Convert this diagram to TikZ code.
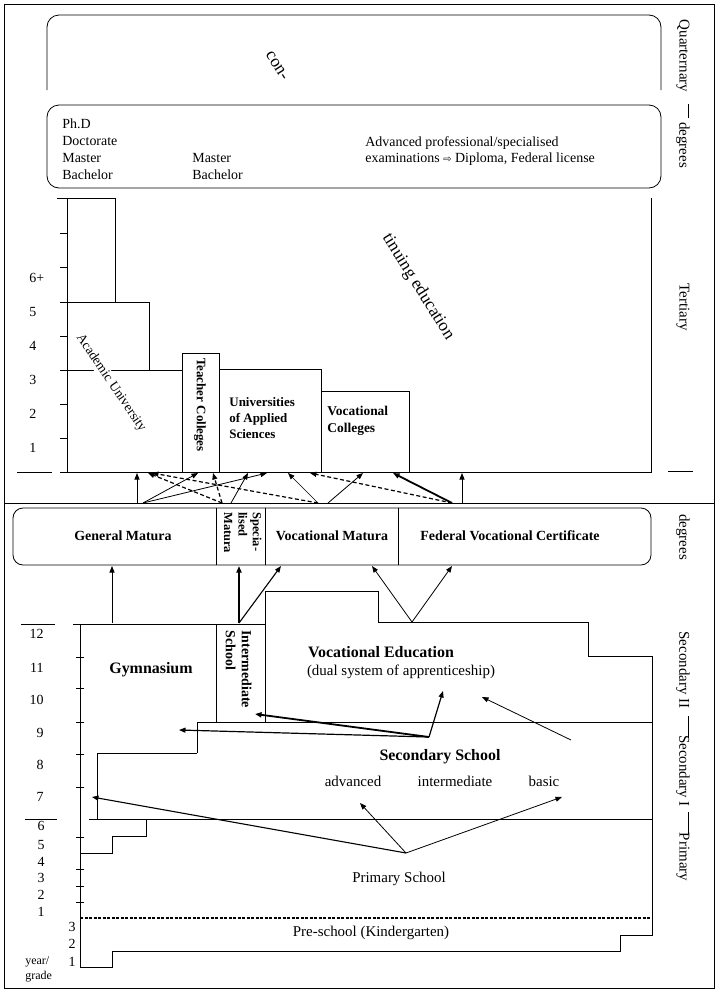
\documentclass[tikz,border=0pt]{standalone}
\usepackage{fontspec}
\setmainfont{Liberation Serif}
\newfontfamily\symfnt{DejaVu Sans}
\usetikzlibrary{arrows.meta}
\begin{document}
\begin{tikzpicture}[x=1bp,y=-1bp,line width=0.8bp,
 every node/.style={inner sep=0pt,font=\fontsize{15}{17}\selectfont},
 tip/.style={-{Triangle[length=6.5bp,width=5bp]}},
 thk/.style={line width=1.8bp},
 dsh/.style={dash pattern=on 4bp off 2.5bp, line width=1.2bp},
 num/.style={font=\fontsize{14}{16}\selectfont},
 deg/.style={font=\fontsize{14}{16}\selectfont, anchor=base west},
 side/.style={font=\fontsize{15}{17}\selectfont, rotate=-90},
 bx/.style={font=\bfseries\fontsize{14}{16}\selectfont},
 big/.style={font=\fontsize{17.5}{20}\selectfont, rotate=-58}]
\useasboundingbox (0,0) rectangle (720,999);
\fill[white] (0,0) rectangle (720,999);
% frame
\draw (4,4) rectangle (714,988);
\draw (4,503) -- (714,503);
% right-hand level labels
\node[side] (quat) at (683,56) {Quarternary};
\draw (688,104) -- (688,118);
\node[side] (deg1) at (683,145) {degrees};
\node[side] (tert) at (683,307) {Tertiary};
\draw (668,471) -- (693,471);
\node[side] (deg2) at (683,537) {degrees};
\node[side] (sec2) at (683,670) {Secondary II};
\draw (688,716) -- (688,738);
\node[side] (sec1) at (683,771) {Secondary I};
\draw (688,812) -- (688,834);
\node[side] (prim) at (683,857) {Primary};
% quaternary
\draw[rounded corners=12bp] (47,90) -- (47,15) -- (661,15) -- (661,90);
\node[big] (con) at (277,66) {con-};
% tertiary degrees box
\draw[rounded corners=12bp] (47,105) rectangle (661,188);
\node[deg] (phd) at (62,128.5) {Ph.D};
\node[deg] (doc) at (62,145.5) {Doctorate};
\node[deg] (mas1) at (62,162) {Master};
\node[deg] (bac1) at (62,179) {Bachelor};
\node[deg] (mas2) at (192,162) {Master};
\node[deg] (bac2) at (192,179) {Bachelor};
\node[deg] (adv1) at (365,146) {Advanced professional/specialised};
\node[deg] (adv2) at (365,162) {examinations {\symfnt\fontsize{10}{12}\selectfont ⇨} Diploma, Federal license};
% tertiary institutions
\draw (67,198) -- (67,472) -- (651,472) -- (651,198);
\draw (57,198) -- (115,198) -- (115,302);
\draw (67,302) -- (149,302) -- (149,370);
\draw (67,370) -- (182,370);
\draw (182,472) -- (182,353) -- (219,353) -- (219,472);
\draw (219,369) -- (321,369) -- (321,472);
\draw (321,391) -- (409,391) -- (409,472);
\foreach \y in {233,267,302,336,370,404,438,472} \draw (60,\y) -- (67,\y);
\draw (17,472) -- (52,472);
\node[num,anchor=west] (t6) at (29,278) {6+};
\node[num,anchor=west] (t5) at (29,312) {5};
\node[num,anchor=west] (t4) at (29,346) {4};
\node[num,anchor=west] (t3) at (29,380) {3};
\node[num,anchor=west] (t2) at (29,414) {2};
\node[num,anchor=west] (t1) at (29,448) {1};
\node[font=\fontsize{13.5}{15}\selectfont, rotate=-56, fill=white, inner sep=1bp] (acad) at (111,383) {Academic University};
\node[font=\bfseries\fontsize{13}{15}\selectfont, rotate=-90] (teach) at (200,405) {Teacher Colleges};
\node[font=\bfseries\fontsize{13}{16}\selectfont, align=left, anchor=west] (uas) at (229,418) {Universities\\of Applied\\Sciences};
\node[font=\bfseries\fontsize{13.5}{16.5}\selectfont, align=left, anchor=west] (vcol) at (327,421) {Vocational\\Colleges};
\node[big] (tinu) at (418,287) {tinuing education};
% upper secondary degrees
\draw[rounded corners=10bp] (13,508) rectangle (651,565);
\draw (216,508) -- (216,565);
\draw (265,508) -- (265,565);
\draw (398,508) -- (398,565);
\node[bx] (gm) at (123,536) {General Matura};
\node[rotate=-90, align=left, anchor=north west, font=\bfseries\fontsize{12.5}{14.5}\selectfont] (sm) at (262,512) {Specia-\\lised\\Matura};
\node[bx] (vm) at (332,536) {Vocational Matura};
\node[bx] (fvc) at (510,536) {Federal Vocational Certificate};
% arrows degrees -> tertiary
\coordinate (g0) at (137,503); \coordinate (g1) at (143,503);
\coordinate (s0) at (222,503); \coordinate (s1) at (231,503);
\coordinate (v0) at (318,503); \coordinate (v1) at (328,503);
\coordinate (f0) at (452,503); \coordinate (f1) at (462,503);
\coordinate (au1) at (137,473); \coordinate (au2) at (148,473); \coordinate (au3) at (152,473);
\coordinate (tc1) at (198,473); \coordinate (tc2) at (213,473);
\coordinate (ua1) at (248,473); \coordinate (ua2) at (267,473);
\coordinate (ua3) at (288,473); \coordinate (ua4) at (310,473);
\coordinate (vc1) at (363,473); \coordinate (vc2) at (393,473);
\coordinate (tx) at (462,473);
\draw[tip] (g0) -- (au1);
\draw[tip] (g1) -- (tc1);
\draw[tip] (g1) -- (ua2);
\draw[tip,dsh] (s0) -- (au2);
\draw[tip,dsh] (s0) -- (tc2);
\draw[tip] (s1) -- (ua1);
\draw[tip,dsh] (v0) -- (au3);
\draw[tip,line width=0.6bp] (v0) -- (ua3);
\draw[tip] (v1) -- (vc1);
\draw[tip,dsh] (f0) -- (ua4);
\draw[tip,thk] (f0) -- (vc2);
\draw[tip] (f1) -- (tx);
% secondary II
\draw (21,624) -- (55,624);
\draw (73,624) -- (265,624);
\draw (80,624) -- (80,967) -- (112,967) -- (112,951) -- (620,951) -- (620,935) -- (652,935) -- (652,656) -- (588,656) -- (588,622) -- (378,622) -- (378,591) -- (265,591) -- (265,722);
\draw (216,624) -- (216,722);
\draw (197,753) -- (197,722) -- (652,722);
\draw (97,819) -- (97,753) -- (197,753);
\draw (25,819) -- (57,819);
\draw (89,819) -- (652,819);
\draw (80,853) -- (112,853) -- (112,836) -- (146,836) -- (146,819);
\draw[dash pattern=on 3bp off 1.5bp, line width=1.2bp] (80,918) -- (652,918);
\foreach \y in {657,688,722,754,787,837,869,886,902} \draw (76,\y) -- (84,\y);
\node[num,anchor=east] (s12) at (44,634) {12};
\node[num,anchor=east] (s11) at (44,668) {11};
\node[num,anchor=east] (s10) at (44,700) {10};
\node[num,anchor=east] (s9) at (44,733) {9};
\node[num,anchor=east] (s8) at (44,765) {8};
\node[num,anchor=east] (s7) at (44,797) {7};
\node[num,anchor=east] (p6) at (45,826) {6};
\node[num,anchor=east] (p5) at (45,845) {5};
\node[num,anchor=east] (p4) at (45,862) {4};
\node[num,anchor=east] (p3) at (45,878) {3};
\node[num,anchor=east] (p2) at (45,895) {2};
\node[num,anchor=east] (p1) at (45,912) {1};
\node[num,anchor=east] (k3) at (76,927) {3};
\node[num,anchor=east] (k2) at (76,944) {2};
\node[num,anchor=east] (k1) at (76,962) {1};
\node[font=\fontsize{12}{14}\selectfont,anchor=west] (yr) at (25,962) {year/};
\node[font=\fontsize{12}{14}\selectfont,anchor=west] (gr) at (25,977) {grade};
\node[font=\bfseries\fontsize{16}{18}\selectfont] (gym) at (151,670) {Gymnasium};
\node[rotate=-90, align=left, anchor=north west, font=\bfseries\fontsize{14}{16}\selectfont] (inter) at (252,630) {Intermediate\\School};
\node[font=\bfseries\fontsize{16}{18}\selectfont] (voc) at (381,652) {Vocational Education};
\node (dual) at (401,672) {(dual system of apprenticeship)};
\node[font=\bfseries\fontsize{16}{18}\selectfont] (secs) at (440,757) {Secondary School};
\node (advd) at (353,781) {advanced};
\node (intm) at (455,781) {intermediate};
\node (basc) at (544,781) {basic};
\node (prims) at (399,879) {Primary School};
\node (pres) at (371,933) {Pre-school (Kindergarten)};
% arrows secondary II -> degrees
\coordinate (gy) at (112,623); \coordinate (gmb) at (112,566);
\coordinate (is) at (239,623); \coordinate (smb) at (239,566); \coordinate (vmb) at (281,566);
\coordinate (ve) at (412,622); \coordinate (vmb2) at (372,566); \coordinate (fvb) at (452,566);
\draw[tip] (gy) -- (gmb);
\draw[tip,line width=1.6bp] (is) -- (smb);
\draw[tip,line width=1.1bp] (is) -- (vmb);
\draw[tip] (ve) -- (vmb2);
\draw[tip] (ve) -- (fvb);
% arrows secondary I -> secondary II
\coordinate (P) at (429,737); \coordinate (isT) at (255,714);
\coordinate (gyT) at (179,730); \coordinate (veT) at (443,691);
\coordinate (B) at (571,740); \coordinate (veT2) at (482,697);
\draw[tip,thk] (P) -- (isT);
\draw[tip,line width=1.2bp] (P) -- (gyT);
\draw[tip,line width=1.2bp] (P) -- (veT);
\draw[tip] (B) -- (veT2);
% arrows primary -> secondary I
\coordinate (Q) at (406,853); \coordinate (g7) at (92,797);
\coordinate (advT) at (360,803); \coordinate (basT) at (562,797);
\draw[tip,line width=1.1bp] (Q) -- (g7);
\draw[tip] (Q) -- (advT);
\draw[tip] (Q) -- (basT);
\end{tikzpicture}
\end{document}
